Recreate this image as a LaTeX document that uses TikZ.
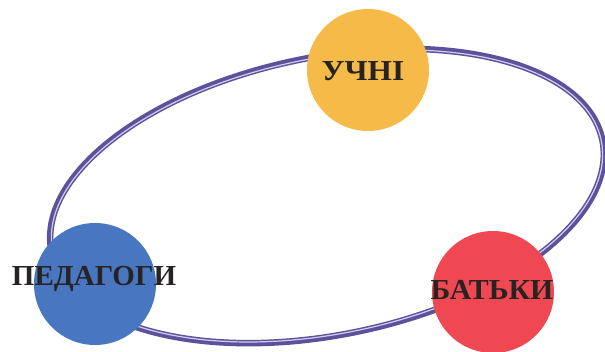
\documentclass[tikz,border=0pt]{standalone}
\usepackage{fontspec}
\setmainfont{Liberation Serif}
\definecolor{ringc}{RGB}{92,82,156}
\definecolor{ringhi}{RGB}{210,205,240}
\definecolor{yel}{RGB}{245,186,72}
\definecolor{blu}{RGB}{72,118,192}
\definecolor{rd}{RGB}{240,72,82}
\definecolor{txt}{RGB}{40,35,35}
\tikzset{
  ball/.style={circle, inner sep=0pt, minimum size=122pt},
  lbl/.style={font=\bfseries\fontsize{29}{29}\selectfont, text=txt, inner sep=0pt},
  ringline/.style={ringc, line width=6.5pt},
  ringlight/.style={ringhi, line width=1.2pt}
}
\begin{document}
\begin{tikzpicture}[x=1pt,y=-1pt]
\useasboundingbox (0,0) rectangle (605,352);
\fill[white] (0,0) rectangle (605,352);
\coordinate (c) at (327,196);
\draw[ringline, rotate around={11.4:(c)}] (c) ellipse [x radius=281, y radius=139];
\draw[ringlight, rotate around={11.4:(c)}] (c) ellipse [x radius=279.8, y radius=137.8];
\node[ball, fill=yel] (uchni) at (368,70) {};
\node[ball, fill=blu] (ped) at (95,284) {};
\node[ball, fill=rd] (batky) at (493,292) {};
\node[lbl, xscale=1.08] (uchnit) at (363,71) {УЧНІ};
\node[lbl] (pedt) at (94,279) {ПЕДАГОГИ};
\node[lbl, xscale=1.03] (batkyt) at (492,290) {БАТЬКИ};
\end{tikzpicture}
\end{document}
